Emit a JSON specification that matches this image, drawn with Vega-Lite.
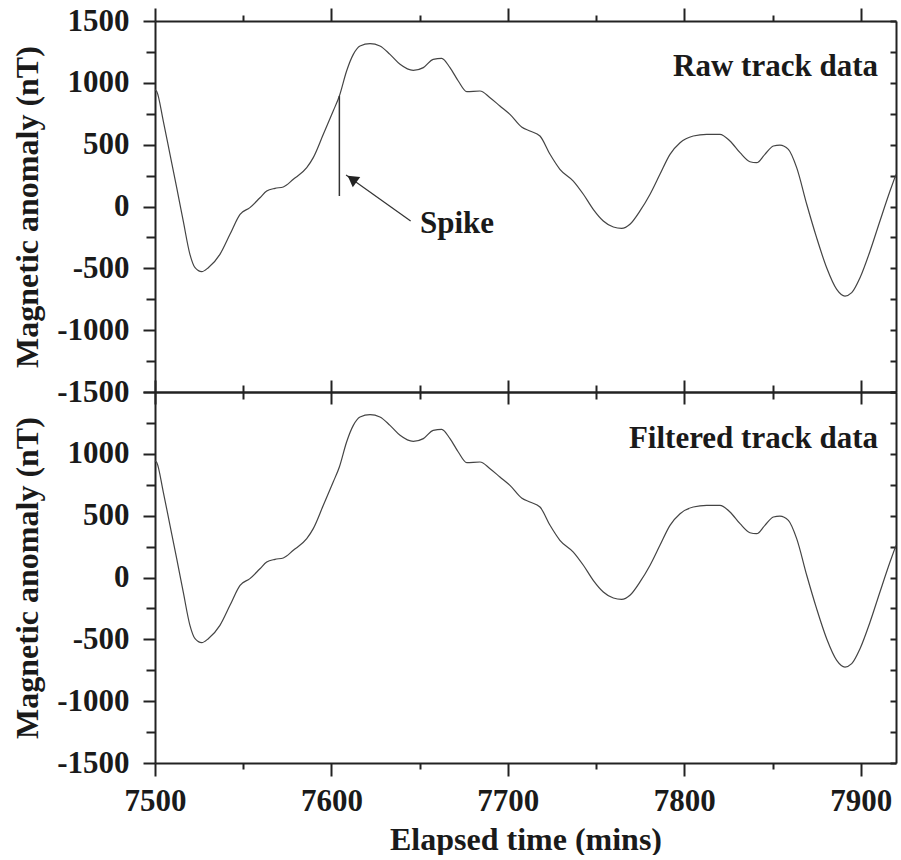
{
  "$schema": "https://vega.github.io/schema/vega-lite/v6.json",
  "padding": {"left": 11, "top": 5, "right": 2, "bottom": 0},
  "spacing": 0,
  "bounds": "flush",
  "config": {
    "view": {"stroke": null},
    "font": "Times New Roman, Liberation Serif, serif",
    "axis": {
      "grid": false,
      "labelFont": "Times New Roman, Liberation Serif, serif",
      "titleFont": "Times New Roman, Liberation Serif, serif",
      "labelFontWeight": "bold",
      "titleFontWeight": "bold",
      "labelFontSize": 31,
      "titleFontSize": 32,
      "labelColor": "#1a1a1a",
      "titleColor": "#1a1a1a",
      "domainColor": "#222222",
      "tickColor": "#222222",
      "domainWidth": 2,
      "tickWidth": 2
    }
  },
  "datasets": {
    "track": [
      {"t": 7500, "v": 945}, {"t": 7501, "v": 930}, {"t": 7504.7, "v": 691}, {"t": 7508.5, "v": 422},
      {"t": 7512.3, "v": 152}, {"t": 7516, "v": -117}, {"t": 7519.8, "v": -387}, {"t": 7522.7, "v": -495},
      {"t": 7526.5, "v": -527}, {"t": 7530.2, "v": -495}, {"t": 7536.8, "v": -387}, {"t": 7542.5, "v": -225},
      {"t": 7548.2, "v": -63}, {"t": 7553.8, "v": -9}, {"t": 7559.5, "v": 71}, {"t": 7563.3, "v": 125},
      {"t": 7568, "v": 147}, {"t": 7572.7, "v": 158}, {"t": 7578.4, "v": 220}, {"t": 7586, "v": 314},
      {"t": 7589.7, "v": 395}, {"t": 7595.4, "v": 584}, {"t": 7601, "v": 772}, {"t": 7604.5, "v": 894},
      {"t": 7608.6, "v": 1096}, {"t": 7612.4, "v": 1230}, {"t": 7616.2, "v": 1298}, {"t": 7621.9, "v": 1317},
      {"t": 7627.5, "v": 1298}, {"t": 7633.2, "v": 1230}, {"t": 7638.9, "v": 1150}, {"t": 7646.4, "v": 1101},
      {"t": 7652.1, "v": 1123}, {"t": 7657.7, "v": 1190}, {"t": 7662.5, "v": 1198}, {"t": 7667.2, "v": 1123},
      {"t": 7671.9, "v": 1015}, {"t": 7676.7, "v": 929}, {"t": 7684.2, "v": 934}, {"t": 7689.9, "v": 880},
      {"t": 7695.5, "v": 813}, {"t": 7701.2, "v": 745}, {"t": 7707.8, "v": 643}, {"t": 7712.5, "v": 611},
      {"t": 7718.2, "v": 570}, {"t": 7723.9, "v": 422}, {"t": 7729.5, "v": 301}, {"t": 7737.1, "v": 206},
      {"t": 7742.8, "v": 99}, {"t": 7748.4, "v": -23}, {"t": 7754.1, "v": -117}, {"t": 7759.8, "v": -166},
      {"t": 7764.5, "v": -177}, {"t": 7769.2, "v": -144}, {"t": 7774.9, "v": -36}, {"t": 7780.6, "v": 99},
      {"t": 7786.2, "v": 260}, {"t": 7791.9, "v": 422}, {"t": 7797.6, "v": 516}, {"t": 7805.1, "v": 570},
      {"t": 7812.7, "v": 584}, {"t": 7820.2, "v": 584}, {"t": 7825.9, "v": 530}, {"t": 7831.6, "v": 435},
      {"t": 7837.2, "v": 362}, {"t": 7841, "v": 354}, {"t": 7845.7, "v": 422}, {"t": 7850.5, "v": 489},
      {"t": 7854.2, "v": 497}, {"t": 7859, "v": 462}, {"t": 7863.7, "v": 314}, {"t": 7869.4, "v": 18},
      {"t": 7875, "v": -252}, {"t": 7880.7, "v": -495}, {"t": 7886.4, "v": -670}, {"t": 7891.1, "v": -724},
      {"t": 7894.9, "v": -697}, {"t": 7899.6, "v": -576}, {"t": 7905.3, "v": -360}, {"t": 7910.9, "v": -117},
      {"t": 7916.6, "v": 125}, {"t": 7920, "v": 260}
    ],
    "spike": [{"t": 7604.5, "v": 894, "v2": 85}],
    "arrow": [{"t": 7608.3, "v": 255, "t2": 7644.9, "v2": -117}],
    "arrowhead": [{"t": 7611.7, "v": 223}],
    "spikelabel": [{"t": 7650.2, "v": -212, "label": "Spike"}],
    "rawlabel": [{"t": 7909.8, "v": 1055, "label": "Raw track data"}],
    "filtlabel": [{"t": 7909.8, "v": 1050, "label": "Filtered track data"}]
  },
  "vconcat": [
    {
      "width": 741,
      "height": 371,
      "resolve": {"axis": {"x": "independent", "y": "independent"}},
      "layer": [
        {
          "data": {"name": "track"},
          "mark": {"type": "line", "interpolate": "monotone", "color": "#444444", "strokeWidth": 1.2},
          "encoding": {
            "x": {"field": "t", "type": "quantitative", "scale": {"domain": [7500, 7920], "nice": false, "zero": false},
                  "axis": {"orient": "bottom", "values": [7500, 7600, 7700, 7800, 7900], "labels": false, "tickSize": 12, "title": null}},
            "y": {"field": "v", "type": "quantitative", "scale": {"domain": [-1500, 1500], "nice": false},
                  "axis": {"orient": "left", "values": [-1500, -1000, -500, 0, 500, 1000, 1500], "labelExpr": "datum.value < 0 ? '-' + abs(datum.value) : '' + datum.value", "tickSize": 12, "labelPadding": 14, "titlePadding": 12, "title": "Magnetic anomaly (nT)"}}
          }
        },
        {
          "data": {"name": "track"},
          "mark": {"type": "line", "opacity": 0},
          "encoding": {
            "x": {"field": "t", "type": "quantitative", "axis": {"orient": "bottom", "values": [7550, 7650, 7750, 7850], "labels": false, "tickSize": 7, "domain": false, "title": null}},
            "y": {"field": "v", "type": "quantitative", "axis": {"orient": "left", "values": [-1250, -750, -250, 250, 750, 1250], "labels": false, "tickSize": 9, "domain": false, "title": null}}
          }
        },
        {
          "data": {"name": "track"},
          "mark": {"type": "line", "opacity": 0},
          "encoding": {
            "x": {"field": "t", "type": "quantitative", "axis": {"orient": "top", "values": [7500, 7600, 7700, 7800, 7900], "labels": false, "tickSize": 13, "title": null}},
            "y": {"field": "v", "type": "quantitative", "axis": {"orient": "right", "values": [-1500, -1250, -1000, -750, -500, -250, 0, 250, 500, 750, 1000, 1250, 1500], "labels": false, "tickSize": -6, "title": null}}
          }
        },
        {
          "data": {"name": "track"},
          "mark": {"type": "line", "opacity": 0},
          "encoding": {
            "x": {"field": "t", "type": "quantitative", "axis": {"orient": "top", "values": [7550, 7650, 7750, 7850], "labels": false, "tickSize": 6, "domain": false, "title": null}},
            "y": {"field": "v", "type": "quantitative", "axis": null}
          }
        },
        {
          "data": {"name": "spike"},
          "mark": {"type": "rule", "color": "#333333", "strokeWidth": 1.5},
          "encoding": {
            "x": {"field": "t", "type": "quantitative", "axis": null},
            "y": {"field": "v", "type": "quantitative", "axis": null},
            "y2": {"field": "v2"}
          }
        },
        {
          "data": {"name": "arrow"},
          "mark": {"type": "rule", "color": "#333333", "strokeWidth": 1.2},
          "encoding": {
            "x": {"field": "t", "type": "quantitative", "axis": null},
            "y": {"field": "v", "type": "quantitative", "axis": null},
            "x2": {"field": "t2"},
            "y2": {"field": "v2"}
          }
        },
        {
          "data": {"name": "arrowhead"},
          "mark": {"type": "point", "shape": "triangle-up", "filled": true, "color": "#222222", "size": 160, "angle": 306, "opacity": 1},
          "encoding": {
            "x": {"field": "t", "type": "quantitative", "axis": null},
            "y": {"field": "v", "type": "quantitative", "axis": null}
          }
        },
        {
          "data": {"name": "spikelabel"},
          "mark": {"type": "text", "align": "left", "baseline": "alphabetic", "fontWeight": "bold", "fontSize": 31, "color": "#1a1a1a"},
          "encoding": {
            "x": {"field": "t", "type": "quantitative", "axis": null},
            "y": {"field": "v", "type": "quantitative", "axis": null},
            "text": {"field": "label"}
          }
        },
        {
          "data": {"name": "rawlabel"},
          "mark": {"type": "text", "align": "right", "baseline": "alphabetic", "fontWeight": "bold", "fontSize": 31, "color": "#1a1a1a"},
          "encoding": {
            "x": {"field": "t", "type": "quantitative", "axis": null},
            "y": {"field": "v", "type": "quantitative", "axis": null},
            "text": {"field": "label"}
          }
        }
      ]
    },
    {
      "width": 741,
      "height": 371,
      "resolve": {"axis": {"x": "independent", "y": "independent"}},
      "layer": [
        {
          "data": {"name": "track"},
          "mark": {"type": "line", "interpolate": "monotone", "color": "#444444", "strokeWidth": 1.2},
          "encoding": {
            "x": {"field": "t", "type": "quantitative", "scale": {"domain": [7500, 7920], "nice": false, "zero": false},
                  "axis": {"orient": "bottom", "values": [7500, 7600, 7700, 7800, 7900], "format": "d", "tickSize": 13, "labelPadding": 10, "titlePadding": 8, "title": "Elapsed time (mins)", "labelFlush": false}},
            "y": {"field": "v", "type": "quantitative", "scale": {"domain": [-1500, 1500], "nice": false},
                  "axis": {"orient": "left", "values": [-1500, -1000, -500, 0, 500, 1000, 1500], "labelExpr": "datum.value == 1500 ? '' : (datum.value < 0 ? '-' + abs(datum.value) : '' + datum.value)", "tickSize": 12, "labelPadding": 14, "titlePadding": 12, "title": "Magnetic anomaly (nT)"}}
          }
        },
        {
          "data": {"name": "track"},
          "mark": {"type": "line", "opacity": 0},
          "encoding": {
            "x": {"field": "t", "type": "quantitative", "axis": {"orient": "bottom", "values": [7550, 7650, 7750, 7850], "labels": false, "tickSize": 6, "domain": false, "title": null}},
            "y": {"field": "v", "type": "quantitative", "axis": {"orient": "left", "values": [-1250, -750, -250, 250, 750, 1250], "labels": false, "tickSize": 9, "domain": false, "title": null}}
          }
        },
        {
          "data": {"name": "track"},
          "mark": {"type": "line", "opacity": 0},
          "encoding": {
            "x": {"field": "t", "type": "quantitative", "axis": {"orient": "top", "values": [7500, 7600, 7700, 7800, 7900], "labels": false, "tickSize": 12, "title": null}},
            "y": {"field": "v", "type": "quantitative", "axis": {"orient": "right", "values": [-1500, -1250, -1000, -750, -500, -250, 0, 250, 500, 750, 1000, 1250, 1500], "labels": false, "tickSize": -6, "title": null}}
          }
        },
        {
          "data": {"name": "track"},
          "mark": {"type": "line", "opacity": 0},
          "encoding": {
            "x": {"field": "t", "type": "quantitative", "axis": {"orient": "top", "values": [7550, 7650, 7750, 7850], "labels": false, "tickSize": 7, "domain": false, "title": null}},
            "y": {"field": "v", "type": "quantitative", "axis": null}
          }
        },
        {
          "data": {"name": "filtlabel"},
          "mark": {"type": "text", "align": "right", "baseline": "alphabetic", "fontWeight": "bold", "fontSize": 31, "color": "#1a1a1a"},
          "encoding": {
            "x": {"field": "t", "type": "quantitative", "axis": null},
            "y": {"field": "v", "type": "quantitative", "axis": null},
            "text": {"field": "label"}
          }
        }
      ]
    }
  ]
}
